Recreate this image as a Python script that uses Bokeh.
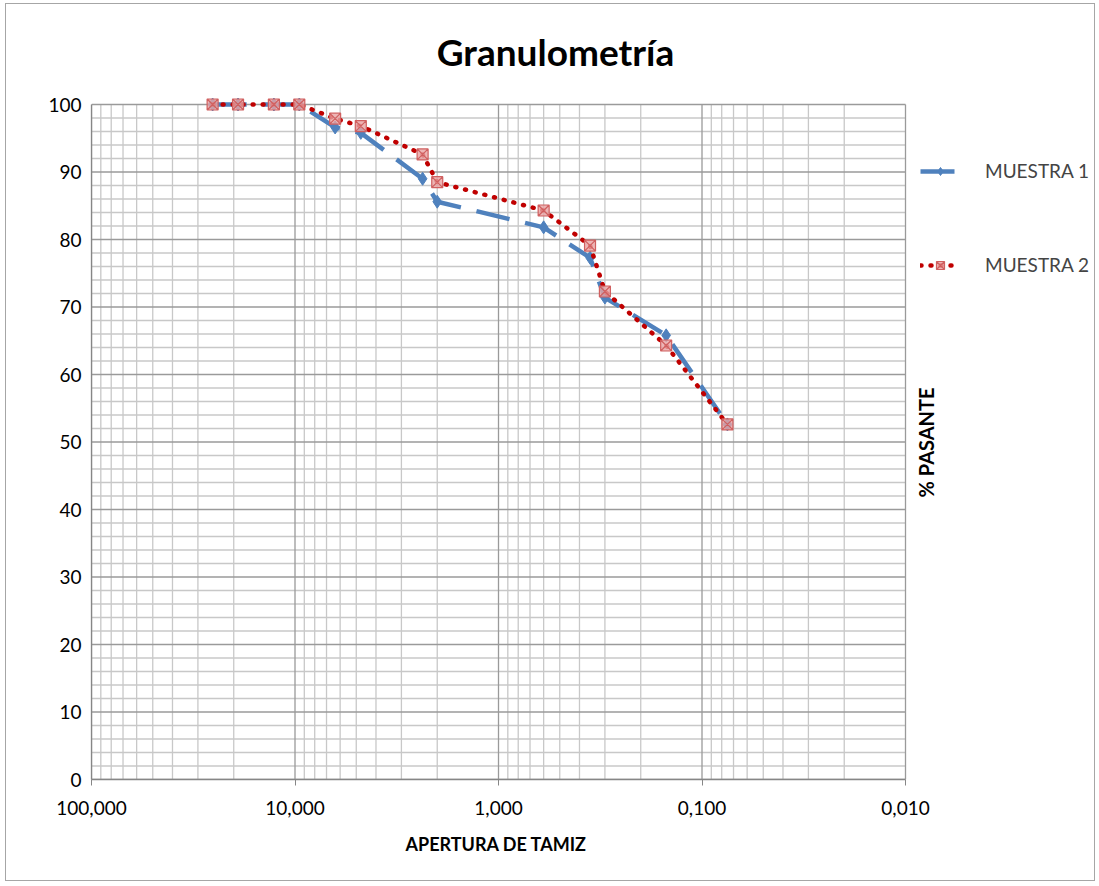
import math
from bokeh.plotting import figure
from bokeh.models import (Range1d, FixedTicker, CustomJSTickFormatter, Legend, LegendItem, Label, Title)
from bokeh.embed import file_html
from bokeh.resources import INLINE

# ---- data ----
aperture_mm = [25.4, 19.05, 12.7, 9.525, 6.35, 4.75, 2.36, 2.0, 0.6, 0.355, 0.3, 0.15, 0.075]
muestra1 = [100, 100, 100, 100, 96.6, 95.8, 89.0, 85.6, 81.8, 77.3, 71.4, 65.8, 52.6]
muestra2 = [100, 100, 100, 100, 97.9, 96.8, 92.6, 88.5, 84.3, 79.1, 72.3, 64.3, 52.6]
x_major = [100, 10, 1, 0.1, 0.01]
x_minor = [m * d for d in (0.01, 0.1, 1, 10) for m in range(2, 10)]
y_major = list(range(0, 101, 10))
y_minor = [v for v in range(0, 101, 2) if v % 10]
x_lo, x_hi = 0.01, 100
y_lo, y_hi = 0, 100

FONT = "Lato"

# ---- layout (pixels) ----
W, H = 1090, 878
LEFT, RIGHT, TOP, BOTTOM = 85, 2, 2, 103
PLOT_W, PLOT_H = 814, 675          # size of the gridded region
frame_w = W - LEFT - RIGHT
frame_h = H - TOP - BOTTOM
decades = math.log10(x_hi / x_lo)
x_end = x_hi / 10 ** (decades * frame_w / PLOT_W)
y_end = y_lo + (y_hi - y_lo) * frame_h / PLOT_H

p = figure(width=W, height=H, x_axis_type="log", title=None,
           x_range=Range1d(x_hi, x_end), y_range=Range1d(y_lo, y_end),
           output_backend="svg", toolbar_location=None,
           min_border_left=LEFT, min_border_right=RIGHT, min_border_top=TOP,
           min_border_bottom=BOTTOM)
p.styles = {"border": "1px solid #A6A6A6", "margin-left": "5px", "margin-top": "3px"}
p.outline_line_color = None
p.xgrid.visible = False
p.ygrid.visible = False

# grid drawn from the tick lists, limited to the chart region
minor_c, major_c = "#C8C8C8", "#9A9A9A"
p.multi_line([[v, v] for v in x_minor], [[y_lo, y_hi]] * len(x_minor), line_color=minor_c, line_width=1.3)
p.multi_line([[x_hi, x_lo]] * len(y_minor), [[v, v] for v in y_minor], line_color=minor_c, line_width=1.3)
p.multi_line([[x_hi, x_lo]] * len(y_major), [[v, v] for v in y_major], line_color=major_c, line_width=1.3)
p.multi_line([[v, v] for v in x_major], [[y_lo, y_hi]] * len(x_major), line_color=major_c, line_width=1.3)

# axes
p.xaxis.ticker = FixedTicker(ticks=x_major)
p.yaxis.ticker = FixedTicker(ticks=y_major)
p.xaxis.bounds = (x_lo, x_hi)
p.yaxis.bounds = (y_lo, y_hi)
p.xaxis.formatter = CustomJSTickFormatter(code="return tick.toFixed(3).replace('.', ',');")
for ax in (p.xaxis[0], p.yaxis[0]):
    ax.axis_line_color = "#868686"
    ax.axis_line_width = 1.3
    ax.major_tick_line_color = "#868686"
    ax.minor_tick_line_color = None
    ax.major_label_text_font = FONT
    ax.major_label_text_font_size = "19px"
    ax.major_label_text_color = "#000000"
p.xaxis.major_tick_out = 6
p.xaxis.major_tick_in = 0
p.yaxis.major_tick_out = 0
p.yaxis.major_tick_in = 0
p.xaxis.major_label_standoff = 15
p.yaxis.major_label_standoff = 10

# x-axis title, centred under the gridded region
xlab = Title(text="APERTURA  DE TAMIZ", align="left", offset=314, standoff=27,
             text_font=FONT, text_font_style="bold", text_font_size="18px",
             text_color="#000000")
p.add_layout(xlab, "below")

# series
blue = "#4F81BD"
red = "#C00000"
l1 = p.line(aperture_mm, muestra1, line_color=blue, line_width=4.5, line_dash="34 16")
s1 = p.scatter(aperture_mm, muestra1, marker="diamond", size=13, fill_color=blue, line_color=blue)
l2 = p.line(aperture_mm, muestra2, line_color=red, line_width=4.5, line_dash="1 9", line_cap="round")
s2 = p.scatter(aperture_mm, muestra2, marker="square_x", size=11, fill_color="#E8A3A3",
               fill_alpha=0.8, line_color="#D06060", line_width=1.2)

legend = Legend(items=[LegendItem(label="MUESTRA 1", renderers=[l1, s1]),
                       LegendItem(label="MUESTRA 2", renderers=[l2, s2])],
                location=(829, 503), orientation="vertical",
                glyph_width=40, glyph_height=20, label_height=20, spacing=71,
                label_standoff=25, padding=0, margin=0,
                border_line_color=None, background_fill_alpha=0,
                label_text_font=FONT, label_text_font_size="19px")
p.add_layout(legend, "center")

title = Label(x=464, y=728, x_units="screen", y_units="screen", text="Granulometría",
              text_font=FONT, text_font_style="bold", text_font_size="37px",
              text_align="center", text_baseline="middle", text_color="#000000")
p.add_layout(title)

ylab = Label(x=834, y=337, x_units="screen", y_units="screen", text="% PASANTE",
             angle=math.pi / 2, text_font=FONT, text_font_style="bold",
             text_font_size="20px", text_align="center", text_baseline="middle",
             text_color="#000000")
p.add_layout(ylab)

open("out.html", "w").write(file_html(p, INLINE))
